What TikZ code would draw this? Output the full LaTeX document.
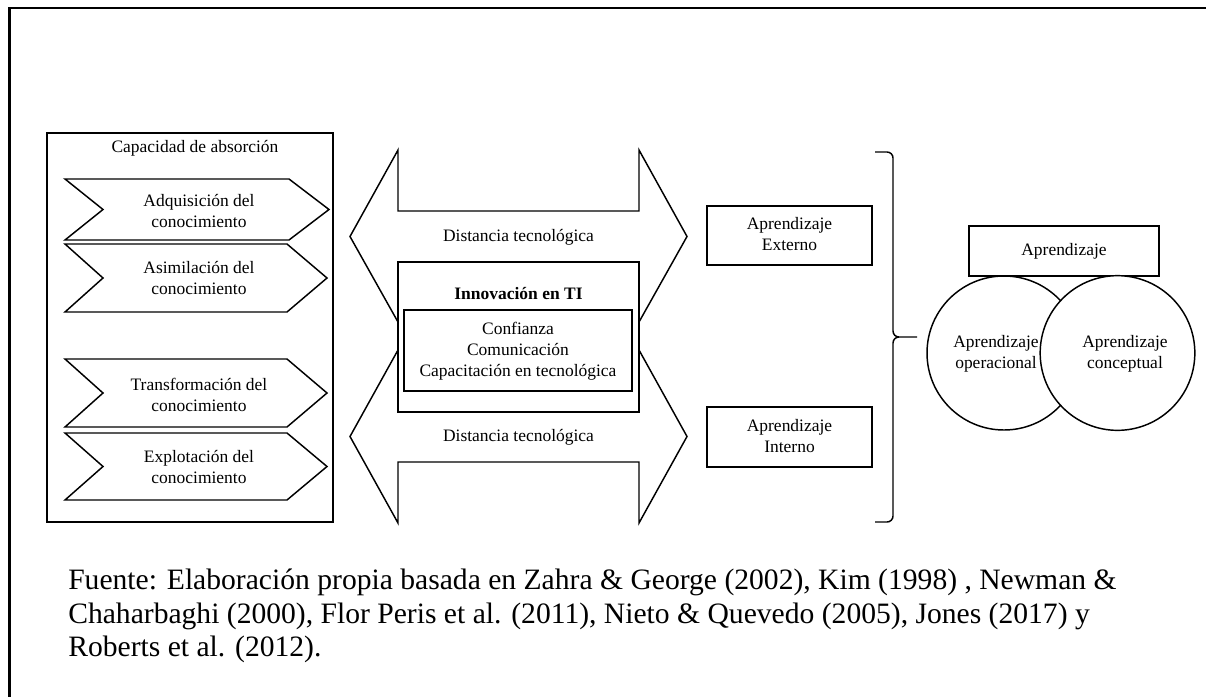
\documentclass[tikz,border=0pt]{standalone}
\usepackage{fontspec}
\setmainfont{Liberation Serif}
\usetikzlibrary{fit}
\begin{document}
\begin{tikzpicture}[x=0.75pt,y=-0.75pt,
  outline/.style={draw=black, line width=1.1pt, line join=miter},
  box/.style={outline, inner sep=0pt},
  lbl/.style={font=\fontsize{13.1}{15.75}\selectfont, align=center, inner sep=0pt},
  captxt/.style={font=\fontsize{22.2}{25.1}\selectfont, anchor=base west, inner sep=0pt}]
\useasboundingbox (0,0) rectangle (1206,696);
\fill[white] (0,0) rectangle (1206,696);

% page frame (top and left rules)
\draw[line width=2pt] (1215,8) -- (9.5,8) -- (9.5,705);

% ---- absorptive capacity panel ----
\node[box, fit={(47,133)(333,522)}] (absorb) {};
\node[lbl] (absorbT) at (195,148) {Capacidad de absorción};

\draw[outline] (65,179) -- (289,179) -- (329,209.5) -- (289,240) -- (65,240) -- (103,209.5) -- cycle;
\draw[outline] (65,244) -- (287,244) -- (327,278) -- (287,312) -- (65,312) -- (103,278) -- cycle;
\draw[outline] (65,359) -- (287,359) -- (327,393) -- (287,427) -- (65,427) -- (103,393) -- cycle;
\draw[outline] (65,433) -- (287,433) -- (327,466.5) -- (287,500) -- (65,500) -- (103,466.5) -- cycle;

\node[lbl] (acq) at (199,211.5) {Adquisición del\\conocimiento};
\node[lbl] (asim) at (199,278) {Asimilación del\\conocimiento};
\node[lbl] (trans) at (199,395) {Transformación del\\conocimiento};
\node[lbl] (expl) at (199,467.5) {Explotación del\\conocimiento};

% ---- technological distance arrows ----
\draw[outline] (350,236.5) -- (398,150) -- (398,211) -- (639,211) -- (639,150) -- (687,236.5)
  -- (639,322) -- (639,262) -- (398,262) -- (398,322) -- cycle;
\draw[outline] (350,436.5) -- (398,350) -- (398,412) -- (639,412) -- (639,350) -- (687,436.5)
  -- (639,523) -- (639,462) -- (398,462) -- (398,523) -- cycle;
\node[lbl] (distA) at (518.5,237) {Distancia tecnológica};
\node[lbl] (distB) at (518.5,437) {Distancia tecnológica};

% ---- IT innovation ----
\node[box, fit={(398,262)(639,412)}] (innov) {};
\node[lbl, font=\fontsize{13.1}{15.75}\selectfont\bfseries] (innovT) at (518.5,294) {Innovación en TI};
\node[box, fill=white, fit={(404,310)(632,391)}] (factors) {};
\node[lbl] (factorsT) at (518,351) {Confianza\\Comunicación\\Capacitación en tecnológica};

% ---- learning sources ----
\node[box, fit={(707,206)(872,265)}] (ext) {};
\node[lbl] (extT) at (789.5,234) {Aprendizaje\\Externo};
\node[box, fit={(707,407)(872,467)}] (int) {};
\node[lbl] (intT) at (789.5,436) {Aprendizaje\\Interno};

% curly bracket
\coordinate (brT) at (875,152);
\coordinate (brM) at (917,337);
\coordinate (brB) at (875,522);
\draw[outline, line join=round]
  (brT) -- (887,152) to[out=0,in=90] (893,158) -- (893,331) to[out=-90,in=180] (899,337) -- (brM);
\draw[outline, line join=round]
  (899,337) to[out=180,in=90] (893,343) -- (893,516) to[out=-90,in=0] (887,522) -- (brB);

% ---- learning types ----
\node[box, fit={(969,226)(1159,276)}] (learn) {};
\node[lbl] (learnT) at (1064,251) {Aprendizaje};
\node[circle, outline, inner sep=0pt, minimum size=115.5pt] (oper) at (1004,353) {};
\node[circle, outline, fill=white, inner sep=0pt, minimum size=116pt] (conc) at (1117.5,353) {};
\node[lbl] (operT) at (996,353.5) {Aprendizaje\\operacional};
\node[lbl] (concT) at (1125,353.5) {Aprendizaje\\conceptual};

% ---- source note ----
\node[captxt] (src1) at (68,589) {Fuente: Elaboración propia basada en Zahra \& George (2002), Kim (1998) , Newman \&};
\node[captxt] (src2) at (68,623) {Chaharbaghi (2000), Flor Peris et al. (2011), Nieto \& Quevedo (2005), Jones (2017) y};
\node[captxt] (src3) at (68,656) {Roberts et al. (2012).};
\end{tikzpicture}
\end{document}
